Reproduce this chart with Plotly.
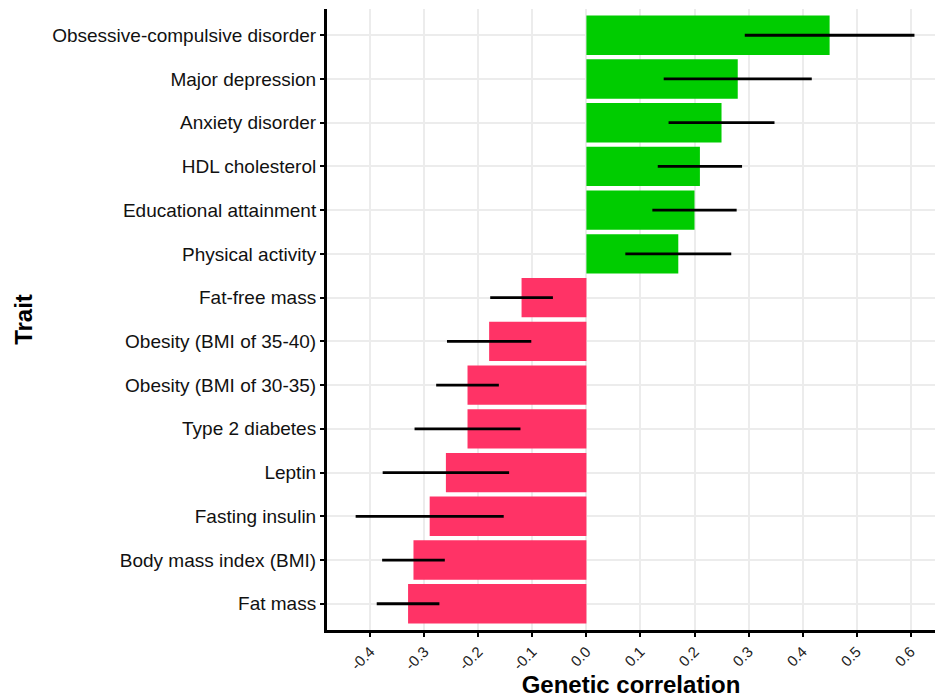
import plotly.graph_objects as go

traits = [
    "Obsessive-compulsive disorder", "Major depression", "Anxiety disorder",
    "HDL cholesterol", "Educational attainment", "Physical activity",
    "Fat-free mass", "Obesity (BMI of 35-40)", "Obesity (BMI of 30-35)",
    "Type 2 diabetes", "Leptin", "Fasting insulin", "Body mass index (BMI)", "Fat mass",
]
rg = [0.45, 0.28, 0.25, 0.21, 0.20, 0.17, -0.12, -0.18, -0.22, -0.22, -0.26, -0.29, -0.32, -0.33]
ci = [0.157, 0.137, 0.098, 0.078, 0.078, 0.098, 0.058, 0.078, 0.058, 0.098, 0.117, 0.137, 0.058, 0.058]
x_ticks = [-0.4, -0.3, -0.2, -0.1, 0.0, 0.1, 0.2, 0.3, 0.4, 0.5, 0.6]
x_tick_labels = ["-0.4", "-0.3", "-0.2", "-0.1", "0.0", "0.1", "0.2", "0.3", "0.4", "0.5", "0.6"]

colors = ["#00CC00" if v > 0 else "#FF3366" for v in rg]

fig = go.Figure()
fig.add_trace(go.Bar(
    x=rg, y=traits, orientation="h",
    marker=dict(color=colors, line=dict(width=0)),
    error_x=dict(type="data", array=ci, visible=True, color="black", thickness=2.8, width=0),
    width=0.9,
))

font_family = "Liberation Sans, Arial, sans-serif"
fig.update_layout(
    width=937, height=698,
    margin=dict(l=327, r=2, t=9, b=68),
    plot_bgcolor="white", paper_bgcolor="white",
    showlegend=False,
    font=dict(family=font_family, color="black"),
    xaxis=dict(
        range=[-0.48, 0.645],
        tickmode="array", tickvals=x_ticks, ticktext=x_tick_labels,
        tickangle=-45, tickfont=dict(size=15, color="#222"),
        showgrid=True, gridcolor="#ececec", gridwidth=1.5,
        zeroline=False,
        showline=True, linecolor="black", linewidth=3,
        ticks="outside", ticklen=4, tickwidth=1.5, tickcolor="black",
        title=dict(text="<b>Genetic correlation</b>", font=dict(size=24), standoff=1),
    ),
    yaxis=dict(
        categoryorder="array", categoryarray=traits[::-1],
        range=[-0.6, 13.6],
        tickfont=dict(size=19, color="#111"),
        showgrid=True, gridcolor="#ececec", gridwidth=1.5,
        zeroline=False,
        showline=True, linecolor="black", linewidth=3,
        ticks="outside", ticklen=4, tickwidth=1.5, tickcolor="black",
        title=dict(text="<b>Trait</b>", font=dict(size=24), standoff=13),
    ),
)

fig.write_html(
    "out.html",
    config={"displayModeBar": False},
    post_script="document.body.style.margin='0';document.body.style.overflow='hidden';",
)
